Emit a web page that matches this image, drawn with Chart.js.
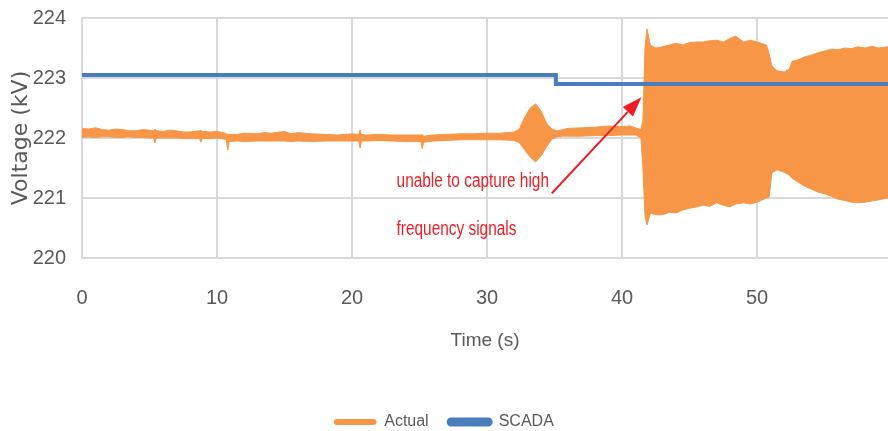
<!DOCTYPE html>
<html>
<head>
<meta charset="utf-8">
<script src="https://cdn.jsdelivr.net/npm/chart.js@4.4.0/dist/chart.umd.min.js"></script>
<style>
  html, body { margin: 0; padding: 0; background: #fff; }
  #wrap { width: 888px; height: 431px; }
</style>
</head>
<body>
<div id="wrap"><canvas id="voltChart"></canvas></div>
<script>
// Actual voltage: upper / lower envelope (s, kV)
const actualTime = [
  0, 0.5, 1, 1.5, 2, 2.5, 3, 3.5, 4, 4.5,
  5, 5.3, 5.4, 5.5, 6, 6.5, 7, 7.5, 8, 8.7,
  8.8, 8.9, 9.5, 10, 10.6, 10.7, 10.8, 10.9, 11.5, 12,
  13, 13.5, 14, 15, 15.5, 16, 17, 18, 19, 20,
  20.5, 20.6, 20.7, 21, 22, 23, 24, 25.1, 25.2, 25.3,
  26, 27, 28, 29, 30, 31, 32, 32.4, 32.8, 33.2,
  33.6, 34, 34.4, 34.8, 35.2, 35.6, 36, 37, 38, 39,
  40, 40.6, 41, 41.4, 41.55, 41.7, 41.85, 42.1, 42.5, 43,
  43.5, 44, 44.5, 45, 45.5, 46, 46.5, 47, 47.5, 48,
  48.4, 49, 49.5, 50, 50.7, 50.9, 51.1, 51.5, 52, 52.4,
  52.6, 53, 53.5, 54, 54.5, 55, 55.5, 56, 56.5, 57,
  57.5, 58, 58.5, 59, 59.7
];
const actualHigh = [
  222.16, 222.15, 222.17, 222.14, 222.13, 222.15, 222.14, 222.12, 222.12, 222.14,
  222.13, 222.12, 222.15, 222.12, 222.11, 222.13, 222.12, 222.10, 222.10, 222.12,
  222.13, 222.11, 222.10, 222.11, 222.08, 222.07, 222.06, 222.06, 222.06, 222.08,
  222.07, 222.09, 222.08, 222.11, 222.07, 222.09, 222.07, 222.06, 222.05, 222.07,
  222.06, 222.13, 222.06, 222.05, 222.06, 222.05, 222.05, 222.05, 222.06, 222.03,
  222.05, 222.06, 222.07, 222.07, 222.08, 222.08, 222.10, 222.15, 222.35, 222.50,
  222.57, 222.45, 222.25, 222.15, 222.12, 222.14, 222.16, 222.17, 222.18, 222.20,
  222.19, 222.20, 222.17, 222.14, 222.30, 223.50, 223.82, 223.55, 223.50, 223.52,
  223.55, 223.58, 223.55, 223.59, 223.60, 223.60, 223.62, 223.63, 223.60, 223.66,
  223.70, 223.60, 223.63, 223.60, 223.55, 223.40, 223.20, 223.12, 223.10, 223.15,
  223.28, 223.30, 223.35, 223.38, 223.42, 223.45, 223.48, 223.47, 223.50, 223.49,
  223.52, 223.50, 223.53, 223.50, 223.52
];
const actualLow = [
  222.01, 222.02, 222.01, 222.02, 222.02, 222.01, 222.01, 222.02, 222.01, 222.01,
  222.00, 222.00, 221.92, 222.00, 222.00, 222.00, 222.00, 221.99, 221.99, 221.99,
  221.93, 221.99, 221.99, 222.00, 221.98, 221.96, 221.80, 221.94, 221.95, 221.94,
  221.95, 221.95, 221.95, 221.95, 221.94, 221.95, 221.94, 221.95, 221.95, 221.95,
  221.95, 221.83, 221.95, 221.95, 221.96, 221.95, 221.94, 221.94, 221.82, 221.93,
  221.95, 221.96, 221.97, 221.97, 221.97, 221.97, 221.96, 221.92, 221.80, 221.68,
  221.60, 221.70, 221.85, 221.98, 222.02, 222.03, 222.03, 222.03, 222.04, 222.04,
  222.05, 222.05, 222.05, 222.00, 221.50, 220.70, 220.55, 220.75, 220.72, 220.72,
  220.76, 220.75, 220.80, 220.83, 220.85, 220.88, 220.86, 220.92, 220.88, 220.85,
  220.90, 220.92, 220.90, 220.93, 221.00, 221.02, 221.42, 221.47, 221.43, 221.38,
  221.33, 221.27, 221.20, 221.15, 221.10, 221.07, 221.03, 220.98, 220.96, 220.93,
  220.92, 220.93, 220.95, 220.97, 221.00
];

// SCADA reading (stepped)
const scadaTime = [0, 35.1, 59.7];
const scadaValue = [223.05, 222.9, 222.9];

// Axis ticks
const xMin = 0, xMax = 59.7, xStep = 10;
const yMin = 220, yMax = 224, yStep = 1;

// Callout: text lines and arrow, in data units
const noteLines = [
  { text: "unable to capture high", t: 23.3, v: 221.27 },
  { text: "frequency signals", t: 23.3, v: 220.47 }
];
const noteArrow = { fromT: 34.8, fromV: 221.08, toT: 41.44, toV: 222.68 };

const ORANGE = "#f79646";
const BLUE = "#4a7ebb";
const GRID = "#d9d9d9";
const TEXT = "#595959";
const RED = "#ee1c25";
const SANS = "'Liberation Sans', Arial, sans-serif";

function toPoints(xs, ys) {
  return xs.map((x, i) => ({ x: x, y: ys[i] }));
}

const calloutPlugin = {
  id: "callout",
  afterDatasetsDraw(chart) {
    const { ctx, scales } = chart;
    const x = scales.x, y = scales.y;
    ctx.save();
    ctx.fillStyle = RED;
    ctx.strokeStyle = RED;
    ctx.font = "20px " + SANS;
    ctx.textBaseline = "middle";
    ctx.textAlign = "left";
    noteLines.forEach((l) => {
      const px = x.getPixelForValue(l.t), py = y.getPixelForValue(l.v);
      ctx.save();
      ctx.translate(px, py);
      ctx.scale(0.77, 1); // the original font is a narrow one
      ctx.fillText(l.text, 0, 0);
      ctx.restore();
    });

    const x0 = x.getPixelForValue(noteArrow.fromT), y0 = y.getPixelForValue(noteArrow.fromV);
    const x1 = x.getPixelForValue(noteArrow.toT), y1 = y.getPixelForValue(noteArrow.toV);
    const ang = Math.atan2(y1 - y0, x1 - x0);
    const headLen = 20, headW = 7;
    const bx = x1 - headLen * Math.cos(ang), by = y1 - headLen * Math.sin(ang);
    ctx.lineWidth = 2;
    ctx.beginPath();
    ctx.moveTo(x0, y0);
    ctx.lineTo(bx, by);
    ctx.stroke();
    ctx.beginPath();
    ctx.moveTo(x1, y1);
    ctx.lineTo(bx + headW * Math.sin(ang), by - headW * Math.cos(ang));
    ctx.lineTo(bx - headW * Math.sin(ang), by + headW * Math.cos(ang));
    ctx.closePath();
    ctx.fill();
    ctx.restore();
  }
};

const ctx = document.getElementById("voltChart").getContext("2d");

const voltChart = new Chart(ctx, {
  type: "line",
  data: {
    datasets: [
      {
        label: "Actual",
        data: toPoints(actualTime, actualHigh),
        borderColor: ORANGE,
        backgroundColor: ORANGE,
        borderWidth: 1,
        pointRadius: 0,
        tension: 0,
        fill: "+1",
        order: 1,
      },
      {
        label: "",
        data: toPoints(actualTime, actualLow),
        borderColor: ORANGE,
        backgroundColor: ORANGE,
        borderWidth: 1,
        pointRadius: 0,
        tension: 0,
        fill: false,
        order: 1,
      },
      {
        label: "SCADA",
        data: toPoints(scadaTime, scadaValue),
        borderColor: BLUE,
        backgroundColor: BLUE,
        borderWidth: 4,
        pointRadius: 0,
        stepped: true,
        fill: false,
        order: 0,
      },
    ],
  },
  options: {
    responsive: true,
    maintainAspectRatio: false,
    animation: false,
    layout: { padding: { top: 18, left: 0, right: 0, bottom: -9 } },
    plugins: {
      tooltip: { enabled: false },
      legend: {
        position: "bottom",
        labels: {
          filter: (item) => item.text !== "",
          sort: (a, b) => a.datasetIndex - b.datasetIndex,
          boxWidth: 42,
          boxHeight: 5,
          useBorderRadius: true,
          borderRadius: 2.5,
          padding: 20,
          color: TEXT,
          font: { family: SANS, size: 16 },
        },
      },
    },
    scales: {
      x: {
        type: "linear",
        min: xMin,
        max: xMax,
        ticks: {
          stepSize: xStep,
          includeBounds: false,
          padding: 28,
          color: TEXT,
          font: { family: SANS, size: 20 },
        },
        grid: { color: GRID, lineWidth: 2, drawTicks: false },
        border: { color: GRID, width: 2 },
        title: {
          display: true,
          text: "Time (s)",
          color: TEXT,
          font: { family: SANS, size: 19 },
          padding: { top: 10, bottom: 42 },
        },
        afterFit(scale) {
          scale.height = 136;
        },
      },
      y: {
        min: yMin,
        max: yMax,
        ticks: {
          stepSize: yStep,
          padding: 16,
          color: TEXT,
          font: { family: SANS, size: 20 },
        },
        grid: { color: GRID, lineWidth: 2, drawTicks: false },
        border: { color: GRID, width: 2 },
        title: {
          display: true,
          text: "Voltage (kV)",
          color: TEXT,
          font: { family: "'DejaVu Sans', sans-serif", size: 22 },
          padding: { top: 8, bottom: 0 },
        },
        afterFit(scale) {
          scale.width = 82;
          scale.paddingTop = 0;
          scale.paddingBottom = 0;
        },
      },
    },
  },
  plugins: [calloutPlugin],
});
</script>
</body>
</html>
